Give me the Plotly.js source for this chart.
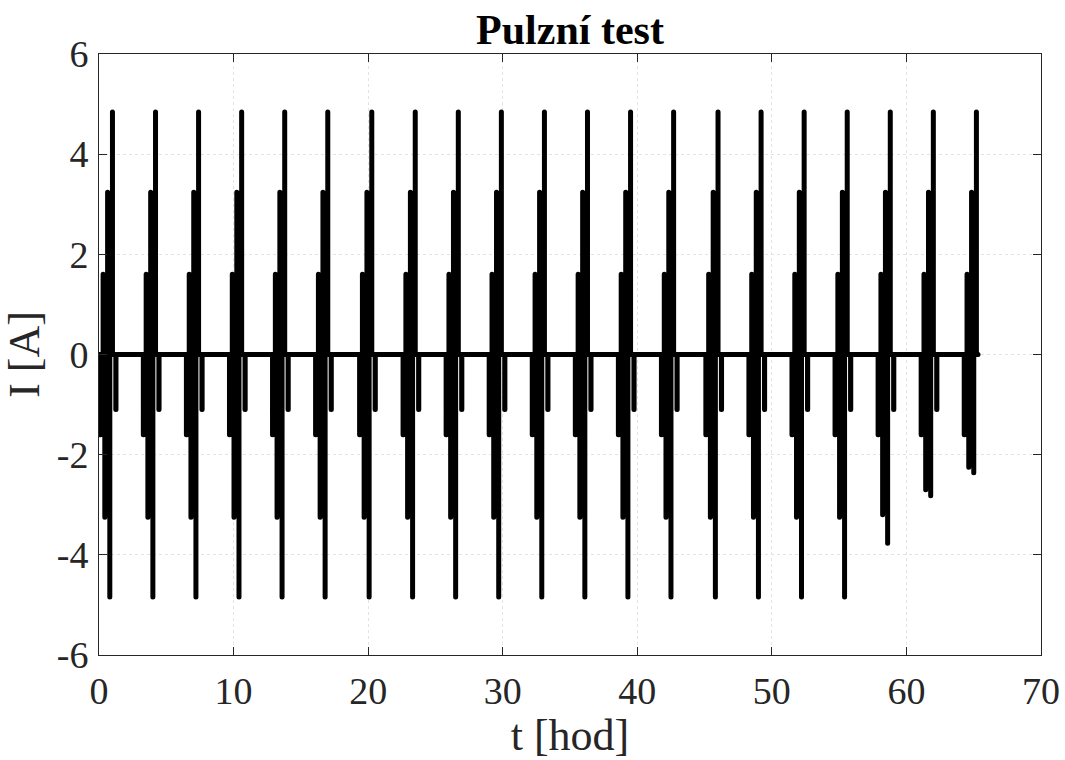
<!DOCTYPE html>
<html>
<head>
<meta charset="utf-8">
<script src="https://cdn.plot.ly/plotly-3.0.1.min.js"></script>
<style>
html,body{margin:0;padding:0;background:#fff;}
#chart{width:1065px;height:760px;}
.scatterlayer path.js-line{stroke-linecap:round;stroke-linejoin:round;}
</style>
</head>
<body>
<div id="chart"></div>
<script>
// Time (hours) of the largest charge pulse in each pulse group
const groupTimes = [1.0, 4.2, 7.4, 10.6, 13.8, 17.0, 20.27, 23.5, 26.7, 29.9, 33.1,
                    36.3, 39.5, 42.7, 46.0, 49.2, 52.4, 55.6, 58.8, 62.0, 65.2];
// Discharge pulse currents per group (A)
const dis1 = [-1.6,-1.6,-1.6,-1.6,-1.6,-1.6,-1.6,-1.6,-1.6,-1.6,-1.6,
              -1.6,-1.6,-1.6,-1.6,-1.6,-1.6,-1.6,-1.6,-1.6,-1.6];
const dis2 = [-3.25,-3.25,-3.25,-3.25,-3.25,-3.25,-3.25,-3.25,-3.25,-3.25,-3.25,
              -3.25,-3.25,-3.25,-3.25,-3.25,-3.25,-3.25,-3.2,-2.7,-2.25];
const dis3 = [-4.84,-4.84,-4.84,-4.84,-4.84,-4.84,-4.84,-4.84,-4.84,-4.84,-4.84,
              -4.84,-4.84,-4.84,-4.84,-4.84,-4.84,-4.84,-3.77,-2.82,-2.36];
// Charge pulse currents (A), same in every group
const chg = [1.6, 3.24, 4.84];
// SOC step discharge current after each group (A); null = no step
const socStep = [-1.1,-1.1,-1.1,-1.1,-1.1,-1.1,-1.1,-1.1,-1.1,-1.1,-1.1,
                 -1.1,-1.1,-1.1,-1.1,-1.1,-1.1,-1.1,-1.1,-1.1,null];
// Pulse timing within a group, hours relative to groupTimes: [start, end] of each pulse
const tDis1 = [-0.905, -0.880];
const tChg1 = [-0.695, -0.695];
const tDis2 = [-0.568, -0.568];
const tChg2 = [-0.360, -0.360];
const tDis3 = [-0.197, -0.197];
const tChg3 = [0.0, 0.0];
const tStep = [0.250, 0.262];
const tailAfterLast = 0.12;
// Tick labels
const xTicks = [0, 10, 20, 30, 40, 50, 60, 70];
const xTickText = ['0', '10', '20', '30', '40', '50', '60', '70'];
const yTicks = [-6, -4, -2, 0, 2, 4, 6];
const yTickText = ['-6', '-4', '-2', '0', '2', '4', '6'];

const xs = [], ys = [];
function pt(x, y) { xs.push(Math.max(0, x)); ys.push(y); }
function pulse(T, win, v) {
  pt(T + win[0], 0); pt(T + win[0], v); pt(T + win[1], v); pt(T + win[1], 0);
}
pt(0, 0);
groupTimes.forEach((T, g) => {
  pulse(T, tDis1, dis1[g]);
  pulse(T, tChg1, chg[0]);
  pulse(T, tDis2, dis2[g]);
  pulse(T, tChg2, chg[1]);
  pulse(T, tDis3, dis3[g]);
  pulse(T, tChg3, chg[2]);
  if (socStep[g] !== null) pulse(T, tStep, socStep[g]);
  else pt(T + tailAfterLast, 0);
});

const font = 'Liberation Serif, Times New Roman, serif';
const axisCommon = {
  showline: true, mirror: 'ticks', linecolor: '#262626', linewidth: 1,
  ticks: 'inside', ticklen: 8, tickcolor: '#262626', tickwidth: 1,
  showgrid: true, gridcolor: '#e3e3e3', griddash: 'dot', gridwidth: 1,
  zeroline: false, automargin: false,
  tickfont: {family: font, size: 38, color: '#262626'}
};
const layout = {
  width: 1065, height: 760,
  margin: {l: 99, r: 24, t: 54, b: 105},
  paper_bgcolor: '#fff', plot_bgcolor: '#fff',
  showlegend: false,
  title: {text: '<b>Pulzní test</b>', font: {family: font, size: 42, color: '#000'},
          x: 0.5, xref: 'paper', xanchor: 'center', y: 0.962, yanchor: 'middle', yref: 'container'},
  xaxis: Object.assign({}, axisCommon, {
    range: [0, 70], tickmode: 'array', tickvals: xTicks, ticktext: xTickText, ticklabelstandoff: 2,
    title: {text: 't [hod]', font: {family: font, size: 44, color: '#262626'}, standoff: 2}
  }),
  yaxis: Object.assign({}, axisCommon, {
    range: [-6, 6], tickmode: 'array', tickvals: yTicks, ticktext: yTickText, ticklabelstandoff: 2,
    title: {text: 'I [A]', font: {family: font, size: 44, color: '#262626'}, standoff: 8}
  })
};
Plotly.newPlot('chart', [{
  x: xs, y: ys, type: 'scatter', mode: 'lines',
  line: {color: '#000', width: 5, simplify: false}, hoverinfo: 'skip'
}], layout, {staticPlot: true, displayModeBar: false});
</script>
</body>
</html>
